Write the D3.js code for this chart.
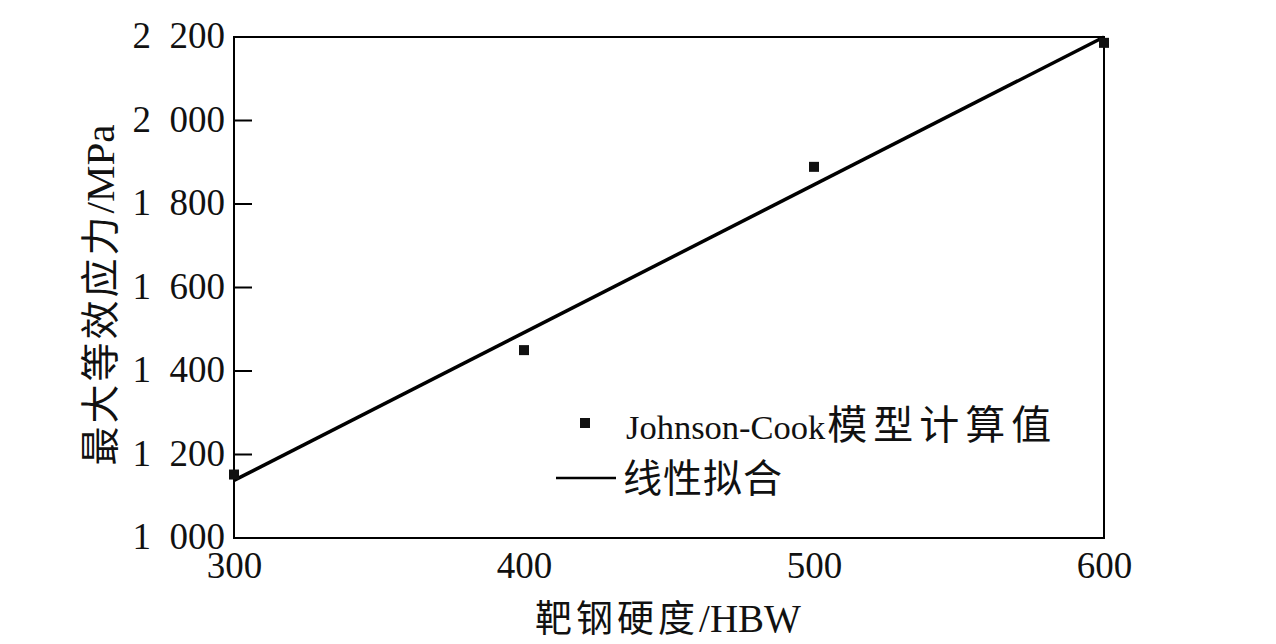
<!DOCTYPE html>
<html><head><meta charset="utf-8">
<script src="https://cdn.jsdelivr.net/npm/d3@7"></script>
<style>
body{margin:0;background:#fff;}
svg{display:block;}
text{font-family:"Liberation Serif","Times New Roman",serif;fill:#111;}
.cjk{font-family:"Noto Sans CJK SC","Liberation Serif",serif;}
.ser{font-family:"Liberation Serif","Times New Roman",serif;}
</style></head>
<body>
<svg id="c" width="1276" height="644"></svg>
<script>
const hardness = [300, 400, 500, 600];
const jcStress = [1152, 1450, 1889, 2186];
const fitX = [300, 600];
const fitY = [1138, 2200];
const xTicks = [300, 400, 500, 600];
const yTicks = [1000, 1200, 1400, 1600, 1800, 2000, 2200];
const xTitle = ["靶钢硬度", "/HBW"];
const yTitle = ["最大等效应力", "/MPa"];
const legendPoints = ["Johnson-Cook", "模型计算值"];
const legendLine = "线性拟合";

const svg = d3.select("#c");
const L = 234, R = 1104, T = 37, B = 538;
const x = d3.scaleLinear().domain([300, 600]).range([L, R]);
const y = d3.scaleLinear().domain([1000, 2200]).range([B, T]);
const fmt = v => { const s = String(v); return s.length > 3 ? s.slice(0, s.length-3) + "\u2002" + s.slice(-3) : s; };

// frame
svg.append("rect").attr("x", L).attr("y", T).attr("width", R-L).attr("height", B-T)
  .attr("fill", "none").attr("stroke", "#000").attr("stroke-width", 2);

// y ticks (inward)
svg.append("g").selectAll("rect").data(yTicks).join("rect")
  .attr("x", L).attr("y", d => y(d) - 1).attr("width", 18).attr("height", 2)
  .attr("fill", "#000");
svg.append("g").selectAll("text").data(yTicks).join("text")
  .attr("x", L - 9).attr("y", d => y(d)).attr("dy", "0.3em")
  .attr("text-anchor", "end").attr("font-size", 37).text(fmt);

// x axis labels (no ticks)
const xAxis = svg.append("g").attr("transform", `translate(0,${B})`)
  .call(d3.axisBottom(x).tickValues(xTicks).tickSize(0).tickPadding(0).tickFormat(d3.format("d")));
xAxis.select(".domain").remove();
xAxis.selectAll("text").attr("y", 40).attr("dy", 0).attr("font-size", 37).attr("fill", "#111")
  .attr("font-family", "Liberation Serif, serif");

// titles
const xt = svg.append("text").attr("class", "cjk").attr("x", 668).attr("y", 632)
  .attr("text-anchor", "middle").attr("font-size", 37);
xt.append("tspan").attr("letter-spacing", 4).text(xTitle[0]);
xt.append("tspan").attr("class", "ser").attr("font-size", 39).text(xTitle[1]);
const yt = svg.append("text").attr("class", "cjk").attr("transform", "translate(114,295) rotate(-90)")
  .attr("text-anchor", "middle").attr("font-size", 39);
yt.append("tspan").attr("letter-spacing", 3).text(yTitle[0]);
yt.append("tspan").attr("class", "ser").attr("font-size", 41).text(yTitle[1]);

// fit line
svg.append("path").datum(fitX.map((v, i) => [v, fitY[i]]))
  .attr("d", d3.line().x(d => x(d[0])).y(d => y(d[1])))
  .attr("stroke", "#000").attr("stroke-width", 3.5).attr("fill", "none");

// points
svg.append("g").selectAll("rect").data(hardness.map((v, i) => [v, jcStress[i]])).join("rect")
  .attr("x", d => x(d[0]) - 5).attr("y", d => y(d[1]) - 5)
  .attr("width", 10).attr("height", 10).attr("fill", "#111");

// legend
svg.append("rect").attr("x", 580).attr("y", 418).attr("width", 10).attr("height", 10).attr("fill", "#111");
const lt = svg.append("text").attr("class", "cjk").attr("x", 626).attr("y", 439).attr("font-size", 40);
lt.append("tspan").attr("class", "ser").attr("font-size", 34.5).text(legendPoints[0]);
lt.append("tspan").attr("dx", 2).attr("letter-spacing", 6).text(legendPoints[1]);
svg.append("line").attr("x1", 556).attr("x2", 616).attr("y1", 478).attr("y2", 478)
  .attr("stroke", "#000").attr("stroke-width", 2.5);
svg.append("text").attr("class", "cjk").attr("x", 623).attr("y", 492).attr("font-size", 39)
  .attr("letter-spacing", 1).text(legendLine);
</script>
</body></html>
